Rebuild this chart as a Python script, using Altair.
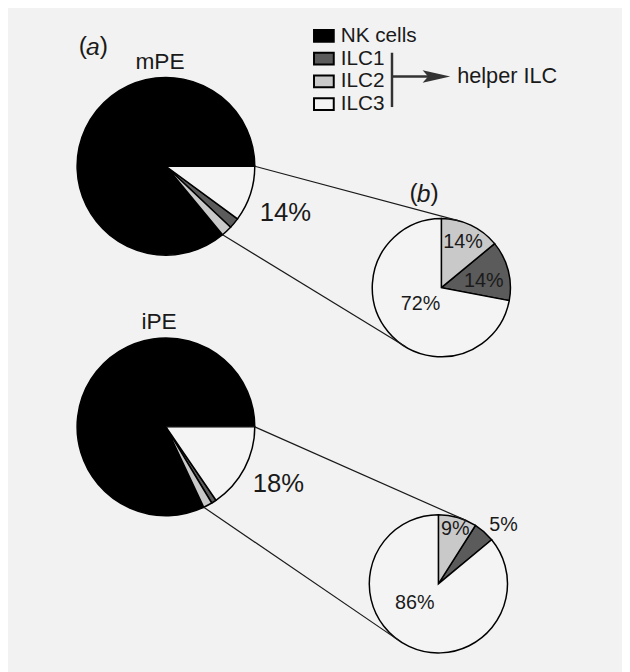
import math
import altair as alt
import pandas as pd

# ---------------- data ----------------
CELLS = ["NK cells", "ILC1", "ILC2", "ILC3"]
HELPER_TYPES = ["ILC1", "ILC2", "ILC3"]
GROUPS = ["mPE", "iPE"]
HELPER_PCT = [14, 18]          # helper ILC share in the whole ILC pie (%)
MPE_SPLIT = [14, 14, 72]       # ILC1, ILC2, ILC3 within helper ILC (%)
IPE_SPLIT = [5, 9, 86]
SPLITS = [MPE_SPLIT, IPE_SPLIT]

# ---------------- style / layout ----------------
COLORS = ["#000000", "#5b5b5b", "#c9c9c9", "#f4f4f4"]
BG = "#f2f2f2"
FONT = "Liberation Sans"
TXT = "#1a1a1a"
W, H = 622, 664
OFF = 8  # page margin
BIG_C = [(168 - OFF, 164 - OFF), (168 - OFF, 428 - OFF)]
SMALL_C = [(447 - OFF, 287 - OFF), (444 - OFF, 587 - OFF)]
R_BIG, R_SMALL = 90, 70
BIG_ORDER = {"ILC3": 0, "ILC1": 1, "ILC2": 2, "NK cells": 3}   # clockwise from 3 o'clock
SMALL_ORDER = {"ILC2": 0, "ILC1": 1, "ILC3": 2}                # clockwise from 12 o'clock
# label offsets from pie centers (px)
SMALL_LABEL_OFF = [
    {"ILC2": (22, -46), "ILC1": (43, -7), "ILC3": (-21, 17)},
    {"ILC2": (17, -55), "ILC1": (66, -60), "ILC3": (-24, 19)},
]
BIG_LABEL_OFF = [(121, 47), (114, 58)]
TITLE_POS = [(162 - OFF, 58 - OFF), (161 - OFF, 322 - OFF)]
PANEL_POS = [("a", 94 - OFF, 43 - OFF), ("b", 429 - OFF, 192 - OFF)]

color_scale = alt.Scale(domain=CELLS, range=COLORS)
legend = alt.Legend(
    title=None, orient="none", legendX=317 - OFF, legendY=13,
    symbolType="M-1,-0.6H1V0.6H-1Z", symbolSize=400,
    symbolStrokeColor="#000000", symbolStrokeWidth=2, symbolOpacity=1,
    labelFont=FONT, labelFontSize=21, labelColor=TXT, labelOffset=6,
    rowPadding=2, padding=0,
)

layers = []
labels = []
connectors = []
for gi, g in enumerate(GROUPS):
    helper = HELPER_PCT[gi]
    split = SPLITS[gi]
    # whole pie
    big_vals = {"NK cells": 100 - helper}
    for t, s in zip(HELPER_TYPES, split):
        big_vals[t] = helper * s / 100
    big_df = pd.DataFrame({
        "cell": CELLS,
        "value": [big_vals[c] for c in CELLS],
        "ord": [BIG_ORDER[c] for c in CELLS],
    })
    cx, cy = BIG_C[gi]
    layers.append(
        alt.Chart(big_df).mark_arc(radius=R_BIG, stroke="#000000", strokeWidth=1.5).encode(
            theta=alt.Theta("value:Q", stack=True,
                            scale=alt.Scale(domain=[0, 100], range=[math.pi / 2, math.pi / 2 + 2 * math.pi])),
            color=alt.Color("cell:N", scale=color_scale, legend=legend),
            order=alt.Order("ord:Q"),
            x=alt.value(cx), y=alt.value(cy),
        )
    )
    # helper ILC pie
    small_df = pd.DataFrame({
        "cell": HELPER_TYPES,
        "value": split,
        "ord": [SMALL_ORDER[c] for c in HELPER_TYPES],
    })
    sx, sy = SMALL_C[gi]
    layers.append(
        alt.Chart(small_df).mark_arc(radius=R_SMALL, stroke="#000000", strokeWidth=1.5).encode(
            theta=alt.Theta("value:Q", stack=True,
                            scale=alt.Scale(domain=[0, 100], range=[0, 2 * math.pi])),
            color=alt.Color("cell:N", scale=color_scale, legend=legend),
            order=alt.Order("ord:Q"),
            x=alt.value(sx), y=alt.value(sy),
        )
    )
    # labels
    for t, s in zip(HELPER_TYPES, split):
        dx, dy = SMALL_LABEL_OFF[gi][t]
        labels.append({"text": f"{s}%", "px": sx + dx, "py": sy + dy, "size": 20})
    bdx, bdy = BIG_LABEL_OFF[gi]
    labels.append({"text": f"{helper}%", "px": cx + bdx, "py": cy + bdy, "size": 26})

    # connector lines: tangents from helper-slice edges to the small pie
    for a, pick in [(math.pi / 2, "upper"), (math.pi / 2 + helper / 100 * 2 * math.pi, "lower")]:
        px = cx + R_BIG * math.sin(a)
        py = cy - R_BIG * math.cos(a)
        d = math.hypot(px - sx, py - sy)
        phi = math.atan2(py - sy, px - sx)
        al = math.acos(R_SMALL / d)
        cands = [(sx + R_SMALL * math.cos(phi + k * al), sy + R_SMALL * math.sin(phi + k * al)) for k in (1, -1)]
        cands.sort(key=lambda p: p[1])
        tx, ty = cands[0] if pick == "upper" else cands[1]
        connectors.append({"x": px, "y": py, "x2": tx, "y2": ty})

conn_df = pd.DataFrame(connectors)
conn = alt.Chart(conn_df).mark_rule(color="#1a1a1a", strokeWidth=1.2).encode(
    x=alt.X("x:Q", scale=None, axis=None), y=alt.Y("y:Q", scale=None, axis=None),
    x2="x2:Q", y2="y2:Q",
)

lab_df = pd.DataFrame(labels)
lab = alt.Chart(lab_df).mark_text(font=FONT, color=TXT, baseline="middle", align="center").encode(
    x=alt.X("px:Q", scale=None, axis=None), y=alt.Y("py:Q", scale=None, axis=None),
    text="text:N", size=alt.Size("size:Q", scale=None, legend=None),
)

title_df = pd.DataFrame({"text": GROUPS, "px": [p[0] for p in TITLE_POS], "py": [p[1] for p in TITLE_POS]})
titles = alt.Chart(title_df).mark_text(font=FONT, fontSize=23, color=TXT, baseline="middle").encode(
    x=alt.X("px:Q", scale=None, axis=None), y=alt.Y("py:Q", scale=None, axis=None), text="text:N",
)

panel_df = pd.DataFrame({"letter": [p[0] for p in PANEL_POS], "px": [p[1] for p in PANEL_POS],
                         "py": [p[2] for p in PANEL_POS]})
panel_letter = alt.Chart(panel_df).mark_text(font=FONT, fontSize=25, fontStyle="italic", color=TXT,
                                             baseline="middle").encode(
    x=alt.X("px:Q", scale=None, axis=None), y=alt.Y("py:Q", scale=None, axis=None), text="letter:N",
)
paren_l = alt.Chart(panel_df).mark_text(font=FONT, fontSize=25, color=TXT, baseline="middle",
                                        align="right", dx=-6, dy=-1).encode(
    x=alt.X("px:Q", scale=None, axis=None), y=alt.Y("py:Q", scale=None, axis=None), text=alt.value("("),
)
paren_r = alt.Chart(panel_df).mark_text(font=FONT, fontSize=25, color=TXT, baseline="middle",
                                        align="left", dx=7, dy=-1).encode(
    x=alt.X("px:Q", scale=None, axis=None), y=alt.Y("py:Q", scale=None, axis=None), text=alt.value(")"),
)

# helper ILC bracket + arrow
BR_X, BR_Y0, BR_Y1, AR_Y = 397 - OFF, 49 - OFF, 104 - OFF, 73 - OFF
bracket = alt.Chart(pd.DataFrame({"k": [0]})).mark_rule(color="#333333", strokeWidth=2.5).encode(
    x=alt.value(BR_X), y=alt.value(BR_Y0), y2=alt.value(BR_Y1))
shaft = alt.Chart(pd.DataFrame({"k": [0]})).mark_rule(color="#333333", strokeWidth=2.5).encode(
    x=alt.value(BR_X), x2=alt.value(435 - OFF), y=alt.value(AR_Y))
head = alt.Chart(pd.DataFrame({"k": [0]})).mark_point(
    shape="M-1,-0.45L1,0L-1,0.45L-0.6,0Z", size=784, filled=True, color="#333333", opacity=1
).encode(x=alt.value(442 - OFF), y=alt.value(AR_Y))
helper_txt = alt.Chart(pd.DataFrame({"t": ["helper ILC"]})).mark_text(
    font=FONT, fontSize=22, color=TXT, align="left", baseline="middle"
).encode(x=alt.value(463 - OFF), y=alt.value(AR_Y), text="t:N")

chart = alt.layer(
    *layers, conn, lab, titles, panel_letter, paren_l, paren_r, bracket, shaft, head, helper_txt
).resolve_scale(theta="independent").properties(
    width=W, height=H, padding=0, autosize=alt.AutoSizeParams(type="none"), background=BG,
).configure_view(strokeWidth=0)

chart.save("out.html", embed_options={"renderer": "svg", "actions": False})
